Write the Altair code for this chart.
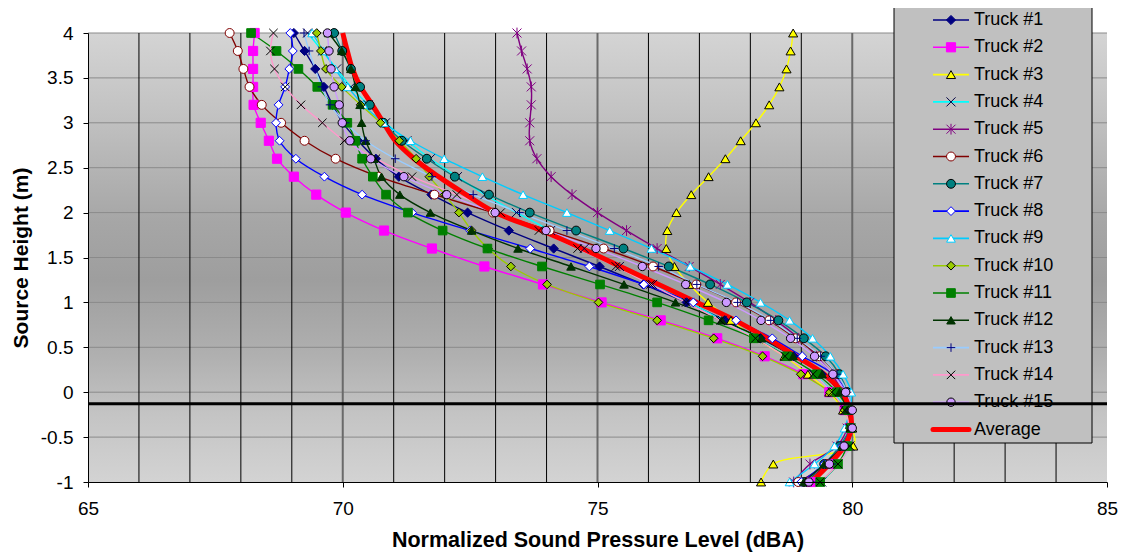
import altair as alt
import pandas as pd

# ---------------- data ----------------
heights = [4.0, 3.8, 3.6, 3.4, 3.2, 3.0, 2.8, 2.6, 2.4, 2.2, 2.0, 1.8, 1.6,
           1.4, 1.2, 1.0, 0.8, 0.6, 0.4, 0.2, 0.0, -0.2, -0.4, -0.6, -0.8, -1.0]

truck_1 = [69.04, 69.25, 69.46, 69.63, 69.80, 70.00, 70.30, 70.65, 71.10, 71.74, 72.45, 73.26, 74.14,
           75.04, 75.90, 76.75, 77.50, 78.20, 78.85, 79.40, 79.75, 79.92, 79.95, 79.80, 79.50, 79.10]
truck_2 = [68.27, 68.24, 68.24, 68.24, 68.25, 68.39, 68.55, 68.71, 69.04, 69.48, 70.06, 70.81, 71.75,
           72.78, 73.93, 75.08, 76.24, 77.35, 78.28, 79.04, 79.55, 79.85, 79.95, 79.85, 79.60, 79.20]
truck_3 = [78.84, 78.79, 78.71, 78.57, 78.37, 78.11, 77.81, 77.51, 77.18, 76.84, 76.55, 76.37, 76.35,
           76.51, 76.80, 77.17, 77.62, 78.10, 78.67, 79.13, 79.55, 79.82, 80.00, 80.02, 78.45, 78.21]
truck_4 = [69.31, 69.60, 69.88, 70.16, 70.50, 70.84, 71.26, 71.72, 72.25, 72.79, 73.41, 74.08, 74.74,
           75.43, 76.08, 76.80, 77.45, 78.12, 78.72, 79.25, 79.62, 79.88, 79.97, 79.95, 79.72, 79.40]
truck_5 = [73.42, 73.51, 73.62, 73.70, 73.70, 73.67, 73.67, 73.81, 74.09, 74.50, 75.00, 75.57, 76.17,
           76.80, 77.41, 77.99, 78.50, 78.95, 79.30, 79.60, 79.80, 79.92, 79.90, 79.70, 79.17, 78.85]
truck_6 = [67.78, 67.94, 68.05, 68.17, 68.41, 68.79, 69.25, 69.86, 70.70, 71.80, 72.95, 74.06, 75.12,
           76.09, 76.94, 77.72, 78.37, 78.89, 79.36, 79.70, 79.90, 79.97, 79.98, 79.80, 79.50, 78.94]
truck_7 = [69.83, 69.99, 70.16, 70.34, 70.53, 70.80, 71.16, 71.65, 72.20, 72.87, 73.67, 74.58, 75.51,
           76.40, 77.21, 77.93, 78.55, 79.05, 79.48, 79.75, 79.90, 79.95, 79.95, 79.75, 79.45, 79.05]
truck_8 = [68.97, 69.02, 68.95, 68.87, 68.74, 68.69, 68.76, 69.08, 69.64, 70.38, 71.36, 72.50, 73.68,
           74.84, 75.91, 76.88, 77.72, 78.43, 79.02, 79.62, 79.88, 79.95, 79.95, 79.80, 79.45, 79.00]
truck_9 = [69.40, 69.62, 69.85, 70.10, 70.40, 70.80, 71.33, 71.99, 72.74, 73.54, 74.40, 75.24, 76.06,
           76.82, 77.55, 78.20, 78.77, 79.22, 79.57, 79.82, 79.98, 79.95, 79.85, 79.65, 79.26, 78.77]
truck_10 = [69.49, 69.57, 69.67, 69.98, 70.35, 70.74, 71.11, 71.44, 71.70, 72.00, 72.28, 72.53, 72.85,
            73.30, 74.01, 75.02, 76.17, 77.28, 78.24, 78.99, 79.56, 79.85, 79.95, 79.85, 79.55, 79.10]
truck_11 = [68.20, 68.70, 69.13, 69.50, 69.80, 70.09, 70.25, 70.38, 70.59, 70.85, 71.28, 71.96, 72.84,
            73.91, 75.05, 76.17, 77.18, 78.07, 78.72, 79.30, 79.70, 79.92, 79.97, 79.90, 79.72, 79.37]
truck_12 = [69.72, 69.98, 70.16, 70.25, 70.34, 70.37, 70.45, 70.61, 70.76, 71.12, 71.72, 72.53, 73.44,
            74.48, 75.52, 76.53, 77.44, 78.22, 78.84, 79.41, 79.75, 79.90, 79.97, 79.80, 79.45, 79.05]
truck_13 = [69.24, 69.34, 69.46, 69.59, 69.75, 70.05, 70.45, 71.03, 71.75, 72.56, 73.47, 74.40, 75.33,
            76.20, 76.95, 77.75, 78.40, 78.92, 79.38, 79.70, 79.90, 79.97, 79.97, 79.85, 79.60, 79.20]
truck_14 = [68.64, 68.58, 68.66, 68.87, 69.18, 69.60, 70.03, 70.65, 71.36, 72.24, 73.10, 73.85, 74.61,
            75.36, 76.04, 76.74, 77.41, 78.10, 78.68, 79.23, 79.60, 79.85, 79.95, 79.95, 79.72, 79.37]
truck_15 = [69.70, 69.73, 69.77, 69.83, 69.93, 69.99, 70.14, 70.55, 71.20, 72.04, 72.99, 73.99, 74.97,
            75.88, 76.73, 77.53, 78.21, 78.79, 79.26, 79.62, 79.87, 80.00, 80.00, 79.84, 79.55, 79.15]
average = [70.00, 70.09, 70.19, 70.35, 70.58, 70.80, 71.03, 71.40, 71.88, 72.42, 73.00, 73.90, 74.70,
           75.45, 76.20, 76.95, 77.70, 78.33, 78.90, 79.45, 79.80, 79.95, 79.98, 79.85, 79.55, 79.20]

series_names = [f"Truck #{i}" for i in range(1, 16)]
truck_series = [truck_1, truck_2, truck_3, truck_4, truck_5, truck_6, truck_7, truck_8,
                truck_9, truck_10, truck_11, truck_12, truck_13, truck_14, truck_15]
average_name = "Average"

x_ticks = [65, 70, 75, 80, 85]
y_ticks = [-1, -0.5, 0, 0.5, 1, 1.5, 2, 2.5, 3, 3.5, 4]
x_domain = [65, 85]
y_domain = [-1, 4]
minor_x = [v for v in range(66, 85) if v % 5 != 0]
major_x = [70, 75, 80]
h_grid = [-0.5, 0, 0.5, 1, 1.5, 2, 2.5, 3, 3.5, 4]
ref_line_h = -0.13

# ---------------- styles ----------------
X_PATH = "M-1,-1L1,1M-1,1L1,-1"
STAR_PATH = "M-1,-1L1,1M-1,1L1,-1M0,-1.2L0,1.2"
PLUS_PATH = "M-1,0L1,0M0,-1L0,1"

line_colors = ["#000080", "#FF00FF", "#FFFF00", "#00FFFF", "#800080", "#800000", "#008080", "#0000FF",
               "#00CCFF", "#99CC00", "#008000", "#003300", "#99CCFF", "#FF99CC", "#CC99FF"]
marker_shapes = ["diamond", "square", "triangle-up", X_PATH, STAR_PATH, "circle", "circle", "diamond",
                 "triangle-up", "diamond", "square", "triangle-up", PLUS_PATH, X_PATH, "circle"]
marker_fills = ["#000080", "#FF00FF", "#FFFF00", "transparent", "transparent", "#FFFFFF", "#008080",
                "#FFFFFF", "#FFFFFF", "#99CC00", "#008000", "#003300", "transparent", "transparent", "#CC99FF"]
marker_strokes = ["#000080", "#FF00FF", "#000000", "#000040", "#800080", "#800000", "#000000", "#0000FF",
                  "#00CCFF", "#000000", "#008000", "#003300", "#000080", "#000000", "#000000"]
marker_sizes = [85, 70, 100, 30, 70, 85, 90, 95, 100, 85, 75, 100, 40, 40, 95]
marker_widths = [1, 1, 1.3, 1.5, 1.5, 1.5, 1.3, 1.5, 1.5, 1.3, 1, 1, 1.5, 2, 1.3]

FONT = "Liberation Sans, Arial, sans-serif"
W, H = 1019, 449
PAD_L, PAD_T, PAD_R, PAD_B = 80, 25, 11, 70

# ---------------- tables ----------------
rows = []
for k, (name, vals) in enumerate(zip(series_names, truck_series)):
    for h, v in zip(heights, vals):
        rows.append({"series": name, "idx": k, "h": h, "spl": v})
trucks_df = pd.DataFrame(rows)
avg_df = pd.DataFrame({"h": heights, "spl": average})


def px_x(px):
    return x_domain[0] + (px - 8 - PAD_L) * (x_domain[1] - x_domain[0]) / W


def px_y(py):
    return y_domain[1] - (py - 8 - PAD_T) * (y_domain[1] - y_domain[0]) / H


row_step = 27.3
legend_names = series_names + [average_name]
leg_df = pd.DataFrame({
    "series": legend_names,
    "row": list(range(len(legend_names))),
})
leg_df["y"] = [px_y(20 + row_step * r) for r in leg_df["row"]]
leg_df["xa"] = px_x(933)
leg_df["xb"] = px_x(969)
leg_df["xm"] = px_x(951)
leg_df["xt"] = px_x(974)
leg_trucks = leg_df[leg_df["series"] != average_name]
leg_avg = leg_df[leg_df["series"] == average_name]

box_df = pd.DataFrame({"x": [px_x(894)], "x2": [px_x(1092)], "y": [px_y(6)], "y2": [px_y(443)]})
bg_df = pd.DataFrame({"x": [x_domain[0]], "x2": [x_domain[1]], "y": [y_domain[0]], "y2": [y_domain[1]]})
hgrid_df = pd.DataFrame({"h": h_grid})
minor_df = pd.DataFrame({"v": minor_x})
major_df = pd.DataFrame({"v": major_x})
ref_df = pd.DataFrame({"h": [ref_line_h], "x": [x_domain[0]], "x2": [x_domain[1]]})

# ---------------- scales / axes ----------------
x_scale = alt.Scale(domain=x_domain, nice=False, zero=False)
y_scale = alt.Scale(domain=y_domain, nice=False, zero=False)
x_axis = alt.Axis(values=x_ticks, title="Normalized Sound Pressure Level (dBA)", grid=False,
                  labelFlush=False, labelOverlap=False,
                  domainColor="black", tickColor="black", tickSize=5, labelFontSize=19,
                  labelPadding=12, labelFont=FONT, labelColor="black", titleFont=FONT,
                  titleFontSize=21.5, titleFontWeight="bold", titleColor="black", titlePadding=11,
                  zindex=1)
y_axis = alt.Axis(values=y_ticks, title="Source Height (m)", grid=False,
                  labelFlush=False, labelOverlap=False,
                  labelExpr="datum.value < 0 ? '-' + format(-datum.value, '') : format(datum.value, '')",
                  domainColor="black", tickColor="black", tickSize=5, labelFontSize=19,
                  labelPadding=10, labelFont=FONT, labelColor="black", titleFont=FONT,
                  titleFontSize=21, titleFontWeight="bold", titleColor="black", titlePadding=9,
                  zindex=1)


def X(field):
    return alt.X(field, type="quantitative", scale=x_scale, axis=x_axis)


def Y(field):
    return alt.Y(field, type="quantitative", scale=y_scale, axis=y_axis)


def sc(rng):
    return alt.Scale(domain=series_names, range=rng)


gradient = alt.LinearGradient(
    gradient="linear", x1=0, x2=0, y1=0, y2=1,
    stops=[alt.GradientStop(color="#d4d4d4", offset=0),
           alt.GradientStop(color="#c2c2c2", offset=0.18),
           alt.GradientStop(color="#a6a6a6", offset=0.42),
           alt.GradientStop(color="#9e9e9e", offset=0.55),
           alt.GradientStop(color="#b0b0b0", offset=0.72),
           alt.GradientStop(color="#c4c4c4", offset=0.85),
           alt.GradientStop(color="#d3d3d3", offset=1)])

bg = alt.Chart(bg_df).mark_rect(fill=gradient).encode(
    x=X("x"), x2="x2", y=Y("y"), y2="y2")

hgrid = alt.Chart(hgrid_df).mark_rule(color="#8a8a8a", strokeWidth=1).encode(
    y=Y("h"), x=alt.datum(x_domain[0]), x2=alt.datum(x_domain[1]))

vminor = alt.Chart(minor_df).mark_rule(color="#000000", strokeWidth=1).encode(
    x=X("v"), y=alt.datum(y_domain[0]), y2=alt.datum(y_domain[1]))
vmajor = alt.Chart(major_df).mark_rule(color="#6a6a6a", strokeWidth=2).encode(
    x=X("v"), y=alt.datum(y_domain[0]), y2=alt.datum(y_domain[1]))

truck_lines = alt.Chart(trucks_df).mark_line(strokeWidth=1.4, interpolate="catmull-rom").encode(
    x=X("spl"), y=Y("h"),
    color=alt.Color("series:N", scale=sc(line_colors), legend=None),
    order=alt.Order("h:Q", sort="descending"))

avg_line = alt.Chart(avg_df).mark_line(strokeWidth=5, color="#FF0000", interpolate="catmull-rom").encode(
    x=X("spl"), y=Y("h"), order=alt.Order("h:Q", sort="descending"))


def marker_enc():
    return dict(
        shape=alt.Shape("series:N", scale=sc(marker_shapes), legend=None),
        fill=alt.Fill("series:N", scale=sc(marker_fills), legend=None),
        stroke=alt.Stroke("series:N", scale=sc(marker_strokes), legend=None),
        size=alt.Size("series:O", scale=sc(marker_sizes), legend=None),
        strokeWidth=alt.StrokeWidth("series:O", scale=sc(marker_widths), legend=None),
    )


markers = alt.Chart(trucks_df).mark_point(opacity=1, filled=True).encode(
    x=X("spl"), y=Y("h"), **marker_enc())

legend_box = alt.Chart(box_df).mark_rect(fill="#c0c0c0", stroke="#000000", strokeWidth=1).encode(
    x=X("x"), x2="x2", y=Y("y"), y2="y2")
legend_lines = alt.Chart(leg_trucks).mark_rule(strokeWidth=1.6).encode(
    x=X("xa"), x2="xb", y=Y("y"),
    color=alt.Color("series:N", scale=sc(line_colors), legend=None))
legend_avg = alt.Chart(leg_avg).mark_rule(strokeWidth=5, color="#FF0000", strokeCap="round").encode(
    x=X("xa"), x2="xb", y=Y("y"))
legend_marks = alt.Chart(leg_trucks).mark_point(opacity=1, filled=True).encode(
    x=X("xm"), y=Y("y"), **marker_enc())
legend_text = alt.Chart(leg_df).mark_text(align="left", baseline="middle", fontSize=18, font=FONT,
                                          color="#000000").encode(
    x=X("xt"), y=Y("y"), text="series:N")

ref_line = alt.Chart(ref_df).mark_rule(color="#000000", strokeWidth=3).encode(
    y=Y("h"), x=X("x"), x2="x2")

chart = alt.layer(
    bg, hgrid, vminor, vmajor, truck_lines, avg_line, markers,
    legend_box, legend_lines, legend_avg, legend_marks, legend_text, ref_line
).properties(
    width=W, height=H,
    autosize=alt.AutoSizeParams(type="none"),
    padding={"left": PAD_L, "top": PAD_T, "right": PAD_R, "bottom": PAD_B},
).configure_view(stroke=None)

chart.save("out.html", embed_options={"renderer": "svg", "actions": False})
